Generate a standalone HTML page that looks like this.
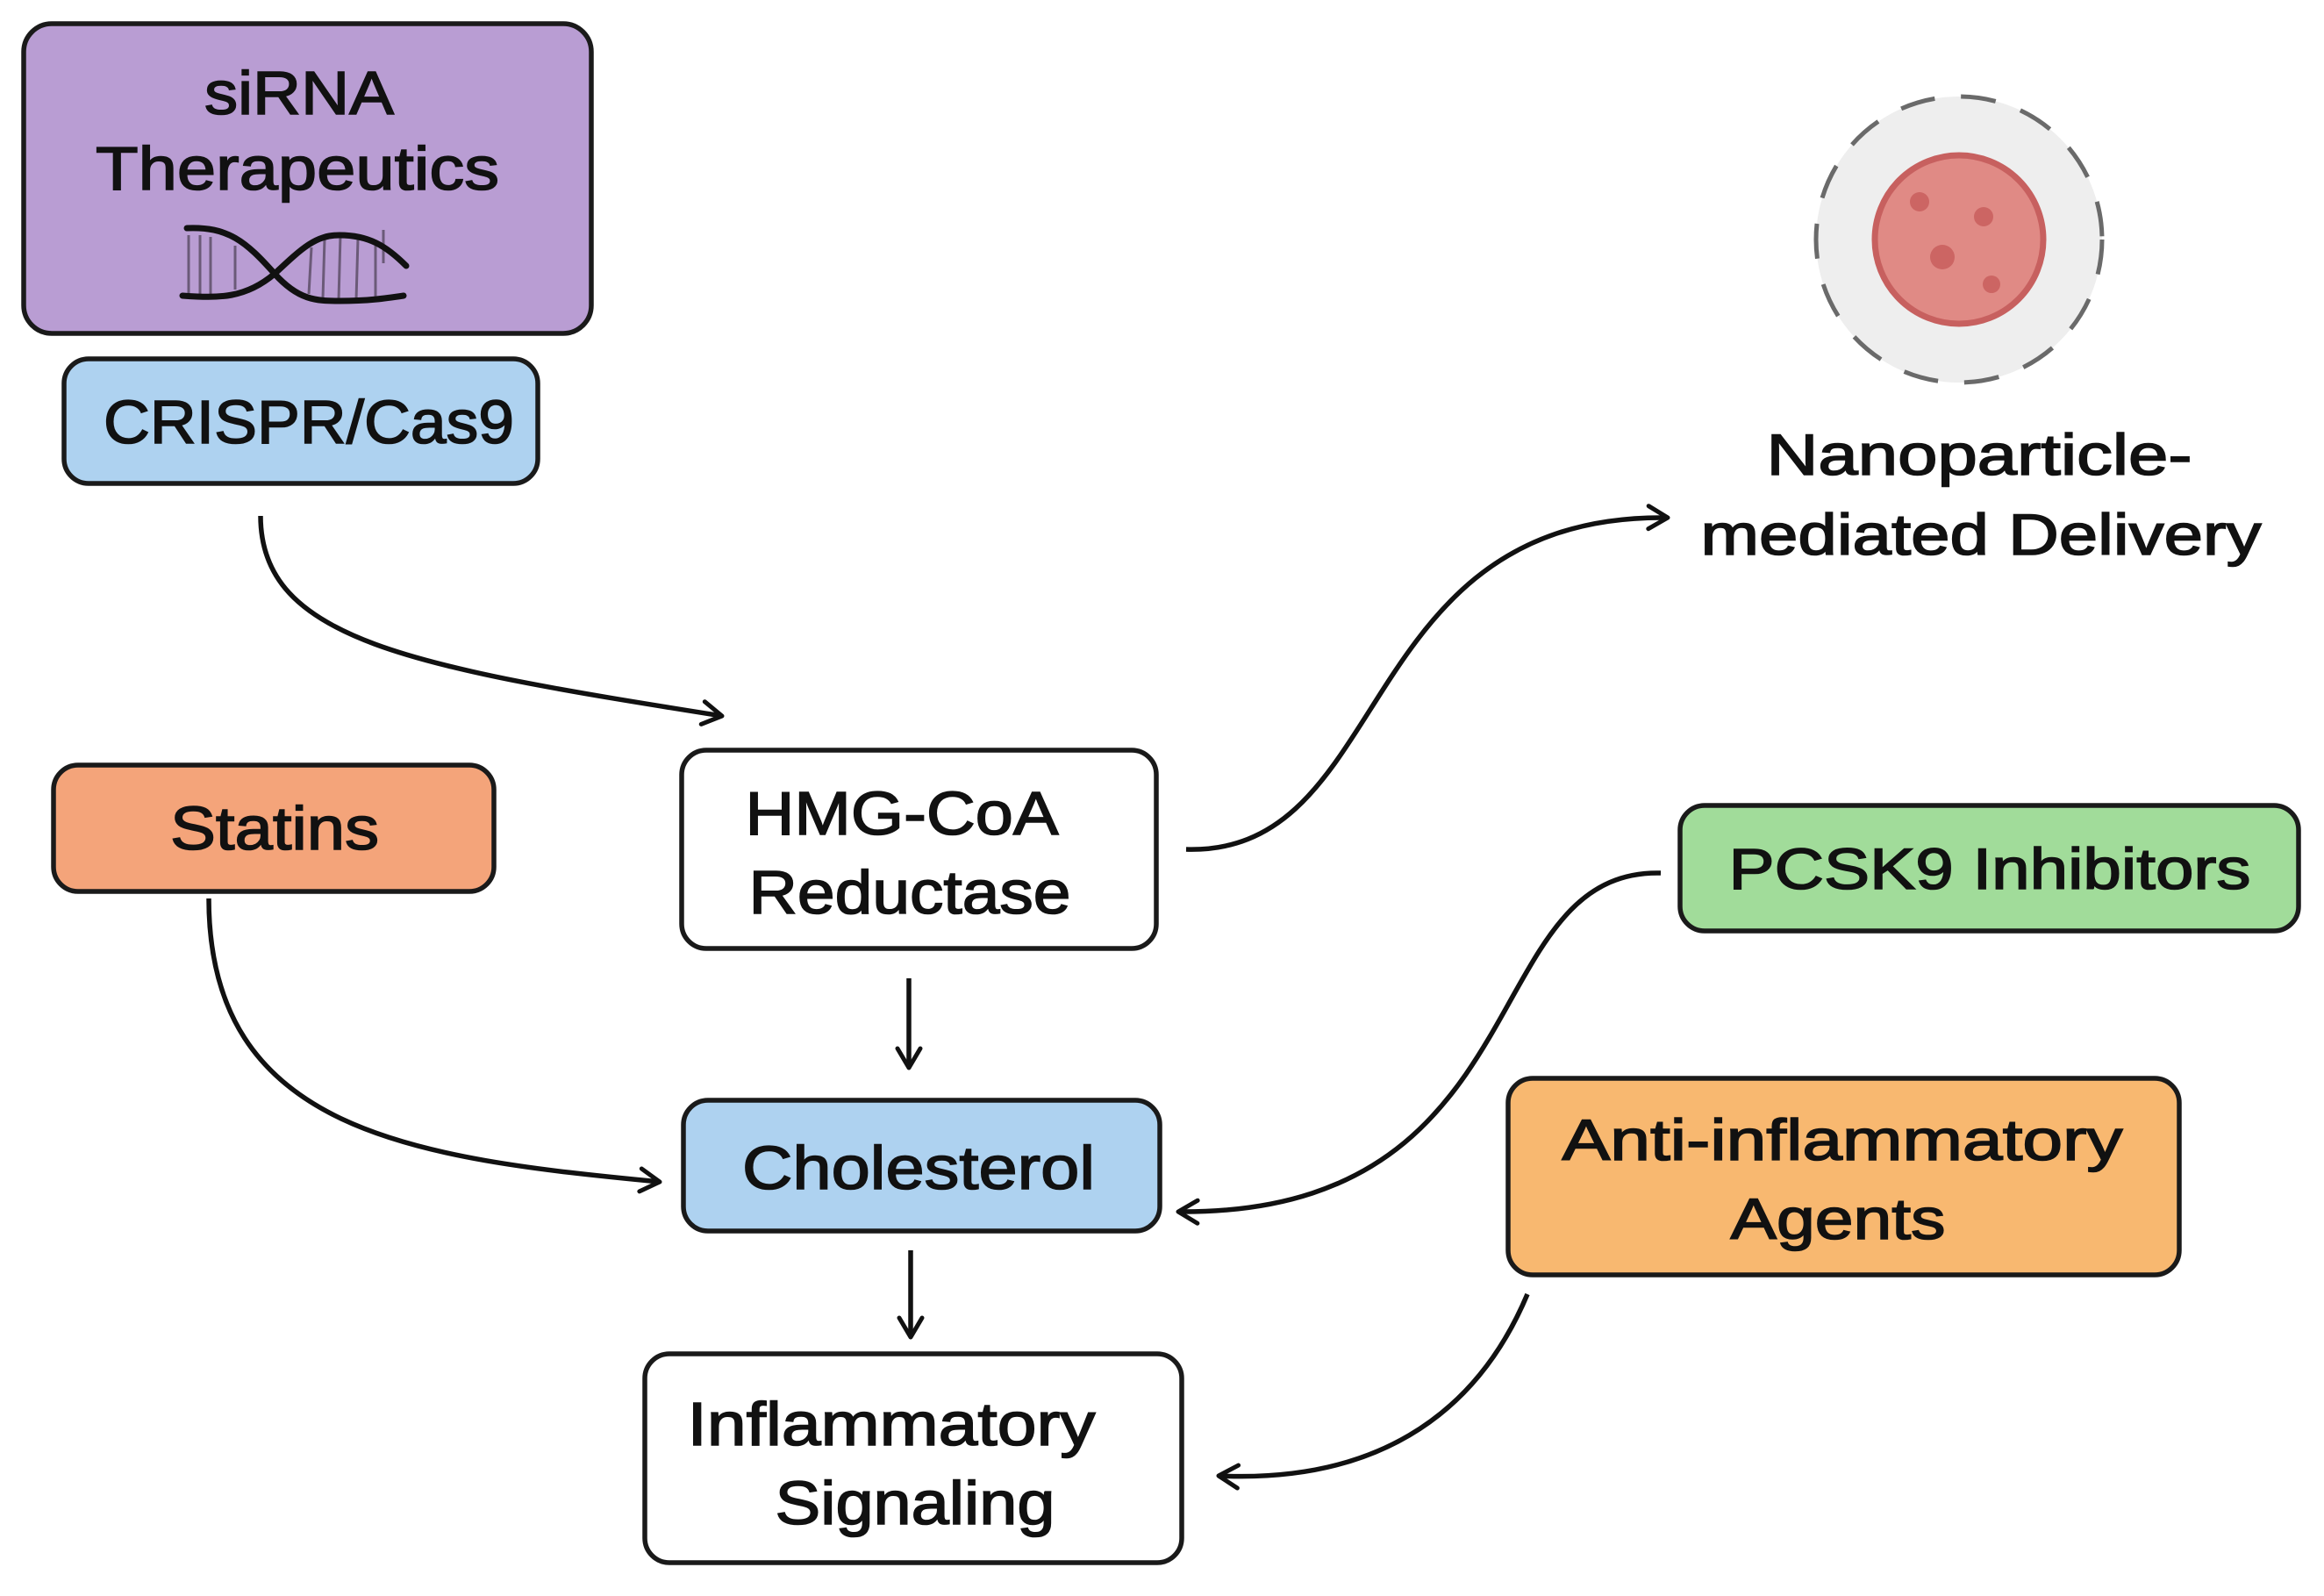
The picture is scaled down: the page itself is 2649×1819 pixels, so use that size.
<!DOCTYPE html>
<html><head><meta charset="utf-8"><style>
html,body{margin:0;padding:0;background:#fff;}
svg{display:block;}
text{font-family:"Liberation Sans",sans-serif;fill:#111;stroke:#111;stroke-width:1.6;}
</style></head><body>
<svg width="2649" height="1819" viewBox="0 0 2649 1819" xmlns="http://www.w3.org/2000/svg">
<defs>
<marker id="ah" viewBox="0 0 32 32" refX="28" refY="16" markerWidth="32" markerHeight="32" markerUnits="userSpaceOnUse" orient="auto">
<path d="M6 3 L28 16 L6 29" fill="none" stroke="#111" stroke-width="5" stroke-linecap="round" stroke-linejoin="round"/>
</marker>
</defs>
<g stroke="#1a1a1a" stroke-width="5.5">
<rect x="27" y="27" width="647" height="353" rx="32" fill="#b99dd3"/>
<rect x="73" y="409" width="540" height="142" rx="28" fill="#aed2f0"/>
<rect x="777" y="855" width="541" height="226" rx="28" fill="#fff"/>
<rect x="61" y="872" width="502" height="144" rx="28" fill="#f4a47a"/>
<rect x="779" y="1254" width="543" height="149" rx="28" fill="#aed2f0"/>
<rect x="735" y="1543" width="612" height="238" rx="28" fill="#fff"/>
<rect x="1915" y="918" width="705" height="143" rx="28" fill="#a1dc9a"/>
<rect x="1719" y="1229" width="765" height="224" rx="28" fill="#f8b870"/>
</g>
<!-- DNA -->
<g fill="none" stroke="#6b5a78" stroke-width="3">
<path d="M215 268 L215 335 M228 268 L228 335 M240 270 L240 336 M268 280 L268 330 M355 282 L352 335 M370 272 L368 340 M388 268 L386 342 M408 272 L406 342 M428 280 L428 338 M437 262 L437 300"/>
</g>
<g fill="none" stroke="#111" stroke-width="7" stroke-linecap="round">
<path d="M213 260 C 260 258, 280 275, 313 312 C 340 342, 360 343, 387 343 C 420 343, 440 340, 460 337"/>
<path d="M208 337 C 250 340, 280 340, 313 312 C 345 282, 360 268, 387 268 C 420 268, 440 280, 463 303"/>
</g>
<!-- nanoparticle -->
<circle cx="2233" cy="273" r="163" fill="#eeeeee" stroke="#6a6a6a" stroke-width="5" stroke-dasharray="40 30"/>
<circle cx="2233" cy="273" r="96" fill="#e08a85" stroke="#c7605f" stroke-width="7"/>
<g fill="#cc6563"><circle cx="2188" cy="230" r="11"/><circle cx="2261" cy="247" r="11"/><circle cx="2214" cy="293" r="14"/><circle cx="2270" cy="324" r="10"/></g>
<!-- connectors -->
<g fill="none" stroke="#111" stroke-width="5.5" marker-end="url(#ah)">
<path d="M297 588 C 297 730, 470 760, 823 816"/>
<path d="M1352 968 C 1590 975, 1540 585, 1901 590"/>
<path d="M1036 1115 L1036 1217"/>
<path d="M1038 1425 L1038 1524"/>
<path d="M238 1024 C 238 1290, 470 1320, 752 1347"/>
<path d="M1893 995 C 1680 990, 1760 1385, 1343 1381"/>
<path d="M1741 1475 C 1680 1620, 1560 1690, 1389 1682"/>
</g>
<!-- text -->
<g font-size="70" text-anchor="middle">
<text x="341" y="130" textLength="216" lengthAdjust="spacingAndGlyphs">siRNA</text>
<text x="339" y="216" textLength="460" lengthAdjust="spacingAndGlyphs">Therapeutics</text>
<text x="352" y="505" textLength="468" lengthAdjust="spacingAndGlyphs">CRISPR/Cas9</text>
<text x="1028" y="951" textLength="357" lengthAdjust="spacingAndGlyphs">HMG-CoA</text>
<text x="1037" y="1041" textLength="367" lengthAdjust="spacingAndGlyphs">Reductase</text>
<text x="313" y="968" textLength="238" lengthAdjust="spacingAndGlyphs">Statins</text>
<text x="1047" y="1355" textLength="402" lengthAdjust="spacingAndGlyphs">Cholesterol</text>
<text x="1016" y="1647" textLength="465" lengthAdjust="spacingAndGlyphs">Inflammatory</text>
<text x="1043" y="1737" textLength="319" lengthAdjust="spacingAndGlyphs">Signaling</text>
<text x="2268" y="1013" font-size="66" textLength="595" lengthAdjust="spacingAndGlyphs">PCSK9 Inhibitors</text>
<text x="2100" y="1322" font-size="66" textLength="639" lengthAdjust="spacingAndGlyphs">Anti-inflammatory</text>
<text x="2095" y="1412" font-size="66" textLength="245" lengthAdjust="spacingAndGlyphs">Agents</text>
<text x="2256" y="541" font-size="66" textLength="485" lengthAdjust="spacingAndGlyphs">Nanoparticle-</text>
<text x="2258" y="632" font-size="66" textLength="639" lengthAdjust="spacingAndGlyphs">mediated Delivery</text>
</g>
</svg>
</body></html>
